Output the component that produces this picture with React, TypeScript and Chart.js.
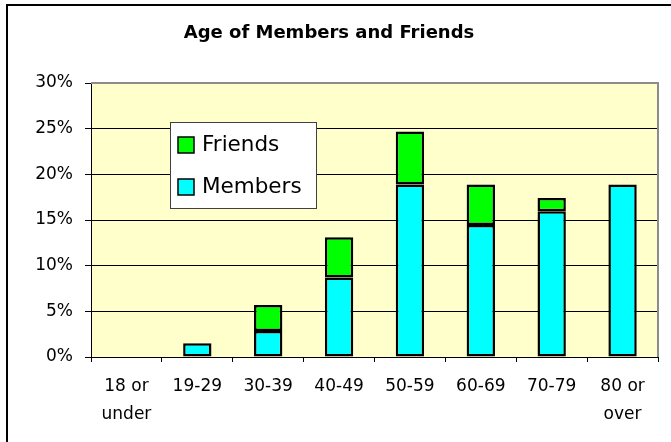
import React, { useEffect, useRef } from "react";
import { Chart, registerables } from "chart.js";

Chart.register(...registerables);

const categories: (string | string[])[] = [
  ["18 or", "under"],
  "19-29",
  "30-39",
  "40-49",
  "50-59",
  "60-69",
  "70-79",
  ["80 or", "over"],
];
const members = [0, 1.5, 2.85, 8.7, 18.9, 14.45, 15.95, 18.9];
const friends = [0, 0, 2.85, 4.4, 5.8, 4.45, 1.45, 0];
const yTicks = [0, 5, 10, 15, 20, 25, 30];
const titleText = "Age of Members and Friends";

const FONT = "'DejaVu Sans', 'Liberation Sans', Arial, sans-serif";

const plotDecor = {
  id: "plotDecor",
  beforeDraw(chart: any) {
    const { ctx, chartArea: a } = chart;
    ctx.save();
    ctx.fillStyle = "#FFFFCC";
    ctx.fillRect(a.left, a.top, a.right - a.left, a.bottom - a.top);
    ctx.restore();
  },
  afterDatasetsDraw(chart: any) {
    const { ctx, chartArea: a } = chart;
    ctx.save();
    // plot area border (top & right)
    ctx.strokeStyle = "#8c8c8c";
    ctx.lineWidth = 2;
    ctx.beginPath();
    ctx.moveTo(a.left, a.top);
    ctx.lineTo(a.right, a.top);
    ctx.lineTo(a.right, a.bottom);
    ctx.stroke();

    // legend (Friends on top, Members below)
    const lx = 170, ly = 122, lw = 146, lh = 86;
    ctx.fillStyle = "#ffffff";
    ctx.fillRect(lx, ly, lw, lh);
    ctx.strokeStyle = "#404040";
    ctx.lineWidth = 1;
    ctx.strokeRect(lx + 0.5, ly + 0.5, lw, lh);
    const ds = chart.data.datasets;
    const order = [1, 0];
    const rowsY = [145, 187];
    order.forEach((di, i) => {
      const d = ds[di];
      const cy = rowsY[i];
      ctx.fillStyle = d.backgroundColor;
      ctx.fillRect(178, cy - 8, 16, 16);
      ctx.strokeStyle = "#000";
      ctx.lineWidth = 1.5;
      ctx.strokeRect(178, cy - 8, 16, 16);
      ctx.fillStyle = "#000";
      ctx.font = `21.5px ${FONT}`;
      ctx.textBaseline = "middle";
      ctx.textAlign = "left";
      ctx.fillText(d.label, 202, cy);
    });
    ctx.restore();
  },
};

export default function App() {
  const ref = useRef<HTMLCanvasElement | null>(null);
  useEffect(() => {
    document.body.style.margin = "0";
    document.body.style.overflow = "hidden";
    const chart = new Chart(ref.current as HTMLCanvasElement, {
      type: "bar",
      data: {
        labels: categories as any,
        datasets: [
          {
            label: "Members",
            data: members,
            backgroundColor: "#00FFFF",
            borderColor: "#000000",
            borderWidth: 2.5,
            borderSkipped: false,
            barPercentage: 0.4,
            categoryPercentage: 1,
          },
          {
            label: "Friends",
            data: friends,
            backgroundColor: "#00FF00",
            borderColor: "#000000",
            borderWidth: 2.5,
            borderSkipped: false,
            barPercentage: 0.4,
            categoryPercentage: 1,
          },
        ],
      },
      options: {
        animation: false,
        responsive: false,
        maintainAspectRatio: false,
        layout: { padding: { left: 0, right: 13, top: 0, bottom: 0 } },
        plugins: {
          legend: { display: false },
          tooltip: { enabled: false },
          title: {
            display: true,
            text: titleText,
            color: "#000",
            font: { family: FONT, size: 18, weight: "bold", lineHeight: 1.2 },
            padding: { top: 23, bottom: 38.4 },
          },
        },
        scales: {
          x: {
            stacked: true,
            grid: {
              offset: true,
              drawOnChartArea: false,
              drawTicks: true,
              tickLength: 5,
              color: "#000",
            },
            border: { display: true, color: "#000", width: 1 },
            ticks: {
              color: "#000",
              font: { family: FONT, size: 17, lineHeight: 1.65 },
              padding: 11,
              maxRotation: 0,
              autoSkip: false,
            },
            afterFit: (s: any) => {
              s.height = 442 - 357;
            },
          },
          y: {
            stacked: true,
            min: 0,
            max: 30,
            afterBuildTicks: (s: any) => {
              s.ticks = yTicks.map((v) => ({ value: v }));
            },
            grid: {
              color: (c: any) => (c.tick && c.tick.value === 30 ? "rgba(0,0,0,0)" : "#000"),
              tickColor: "#000",
              tickLength: 6,
              lineWidth: 1,
            },
            border: { display: true, color: "#000", width: 1 },
            ticks: {
              color: "#000",
              font: { family: FONT, size: 17 },
              padding: 12,
              callback: (v: any) => `${v}%`,
            },
            afterFit: (s: any) => {
              s.width = 91;
            },
          },
        },
      },
      plugins: [plotDecor],
    });
    return () => chart.destroy();
  }, []);
  return (
    <div style={{ position: "fixed", left: 0, top: 0, width: 671, height: 442, background: "#fff", overflow: "hidden" }}>
      <canvas ref={ref} width={671} height={442} style={{ position: "absolute", left: 0, top: 0 }} />
      <div
        style={{
          position: "absolute",
          left: 6,
          top: 4,
          width: 700,
          height: 500,
          border: "2px solid #000",
          pointerEvents: "none",
        }}
      />
    </div>
  );
}
